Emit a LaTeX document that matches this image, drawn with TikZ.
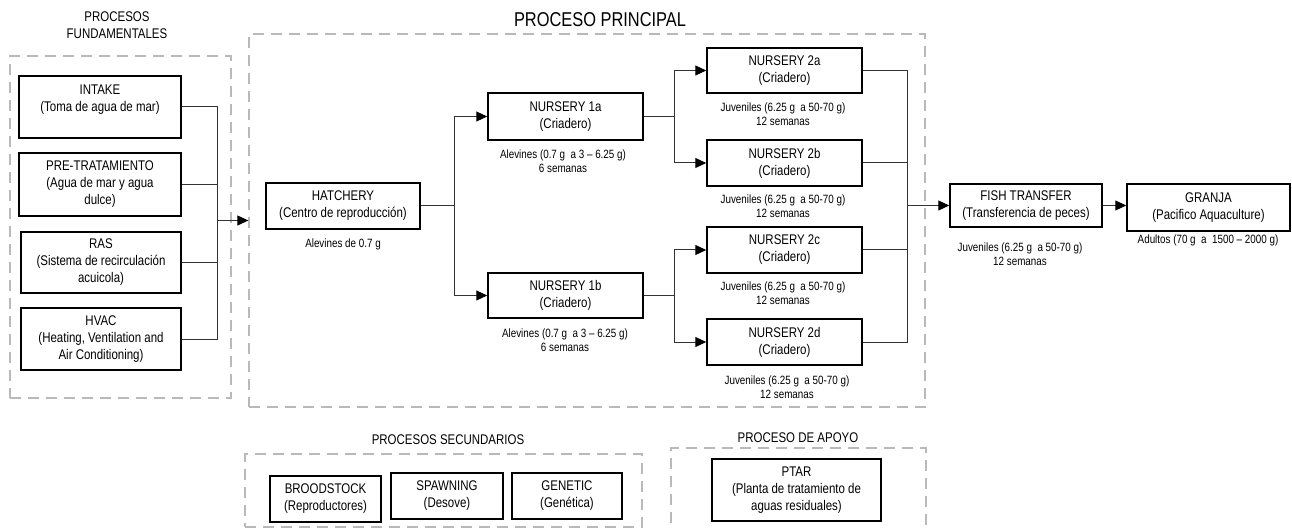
\documentclass[tikz,border=0pt]{standalone}
\usepackage{fontspec}
\setmainfont{Liberation Sans}[FakeStretch=0.82]
\usetikzlibrary{arrows.meta,positioning}

\begin{document}
\begin{tikzpicture}[x=1pt, y=-1pt,
  every node/.style = {align=center, inner sep=0pt},
  proc/.style = {draw, line width=1.5pt, minimum width=155pt, minimum height=46pt,
    font=\fontsize{14}{17}\selectfont},
  note/.style = {font=\fontsize{12}{14}\selectfont},
  head/.style = {font=\fontsize{14}{16.5}\selectfont},
  group/.style = {draw=gray!55, line width=1.3pt, dash pattern=on 11pt off 7pt},
  wire/.style = {draw=black!80, line width=1pt},
  feed/.style = {wire, -{Triangle[length=11pt,width=10pt,black]}}]
  \useasboundingbox (0,0) rectangle (1292,529);

  % groups
  \node[group, minimum width=221pt, minimum height=342pt] (fund) at (120.5,227) {};
  \node[group, minimum width=676pt, minimum height=373pt] (main) at (587,220.5) {};
  \node[group, minimum width=397pt, minimum height=73pt] (secund) at (443.5,490.5) {};
  \node[group, minimum width=255pt, minimum height=92pt] (apoyo) at (798.5,494) {};
  \node[head] at (117,25) {PROCESOS\\FUNDAMENTALES};
  \node[head, font=\fontsize{20}{24}\selectfont] at (600,20) {PROCESO PRINCIPAL};
  \node[head] at (448,440) {PROCESOS SECUNDARIOS};
  \node[head] at (798,438) {PROCESO DE APOYO};

  % procesos fundamentales
  \node[proc, minimum width=162pt, minimum height=62pt] (intake) at (100,107)
    {INTAKE\\(Toma de agua de mar)\\\mbox{}};
  \node[proc, minimum width=162pt, minimum height=63pt] (pretrat) at (100,184.5)
    {PRE-TRATAMIENTO\\(Agua de mar y agua\\dulce)};
  \node[proc, minimum width=160pt, minimum height=61pt] (ras) at (101,262.5)
    {RAS\\(Sistema de recirculación\\acuicola)};
  \node[proc, minimum width=160pt, minimum height=62pt] (hvac) at (101,339)
    {HVAC\\(Heating, Ventilation and\\Air Conditioning)};

  % proceso principal
  \node[proc, minimum width=154pt] (hatchery) at (343,206) {HATCHERY\\(Centro de reproducción)};
  \node[proc, minimum height=47pt] (n1a) at (565.5,116.5) {NURSERY 1a\\(Criadero)};
  \node[proc, minimum height=45pt] (n1b) at (565.5,295.5) {NURSERY 1b\\(Criadero)};
  \node[proc, minimum height=45pt] (n2a) at (784.5,70.5) {NURSERY 2a\\(Criadero)};
  \node[proc] (n2b) at (784.5,163) {NURSERY 2b\\(Criadero)};
  \node[proc] (n2c) at (784.5,250) {NURSERY 2c\\(Criadero)};
  \node[proc] (n2d) at (784.5,342) {NURSERY 2d\\(Criadero)};
  \node[proc, minimum width=152pt, minimum height=43pt] (fish) at (1026,205.5)
    {FISH TRANSFER\\(Transferencia de peces)};
  \node[proc, minimum width=163pt, minimum height=47pt] (granja) at (1208.5,207.5)
    {GRANJA\\(Pacifico Aquaculture)};

  \node[note] at (343,244) {Alevines de 0.7 g};
  \node[note] at (563,161) {Alevines (0.7 g\ \ a 3 – 6.25 g)\\6 semanas};
  \node[note] at (565,340.5) {Alevines (0.7 g\ \ a 3 – 6.25 g)\\6 semanas};
  \node[note] at (783,114) {Juveniles (6.25 g\ \ a 50-70 g)\\12 semanas};
  \node[note] at (783,206) {Juveniles (6.25 g\ \ a 50-70 g)\\12 semanas};
  \node[note] at (783,293.5) {Juveniles (6.25 g\ \ a 50-70 g)\\12 semanas};
  \node[note] at (787,387) {Juveniles (6.25 g\ \ a 50-70 g)\\12 semanas};
  \node[note] at (1020,254) {Juveniles (6.25 g\ \ a 50-70 g)\\12 semanas};
  \node[note] at (1208,240.5) {Adultos (70 g\ \ a\ \ 1500 – 2000 g)};

  % procesos secundarios y de apoyo
  \node[proc, minimum width=111pt] (brood) at (325.5,499) {BROODSTOCK\\(Reproductores)};
  \node[proc, minimum width=112pt] (spawn) at (447,496) {SPAWNING\\(Desove)};
  \node[proc, minimum width=110pt] (genetic) at (567,496) {GENETIC\\(Genética)};
  \node[proc, minimum width=169pt, minimum height=62pt] (ptar) at (796.5,490)
    {PTAR\\(Planta de tratamiento de\\aguas residuales)};

  % connectors
  \coordinate (jf) at (217,220.5);
  \coordinate (j1) at (454,206);
  \coordinate (j2a) at (674,116.5);
  \coordinate (j2b) at (674,295.5);
  \coordinate (jo) at (907,205.5);
  \foreach \n in {intake,pretrat,ras,hvac}
    \draw[wire] (\n.east) -| (jf);
  \draw[feed] (jf) -- (main.west);
  \draw[wire] (hatchery.east) -- (j1);
  \draw[feed] (j1) |- (n1a.west);
  \draw[feed] (j1) |- (n1b.west);
  \draw[wire] (n1a.east) -- (j2a);
  \draw[feed] (j2a) |- (n2a.west);
  \draw[feed] (j2a) |- (n2b.west);
  \draw[wire] (n1b.east) -- (j2b);
  \draw[feed] (j2b) |- (n2c.west);
  \draw[feed] (j2b) |- (n2d.west);
  \foreach \n in {n2a,n2b,n2c,n2d}
    \draw[wire] (\n.east) -| (jo);
  \draw[feed] (jo) -- (fish.west);
  \draw[feed] (fish.east) -- (fish.east -| granja.west);
\end{tikzpicture}
\end{document}
